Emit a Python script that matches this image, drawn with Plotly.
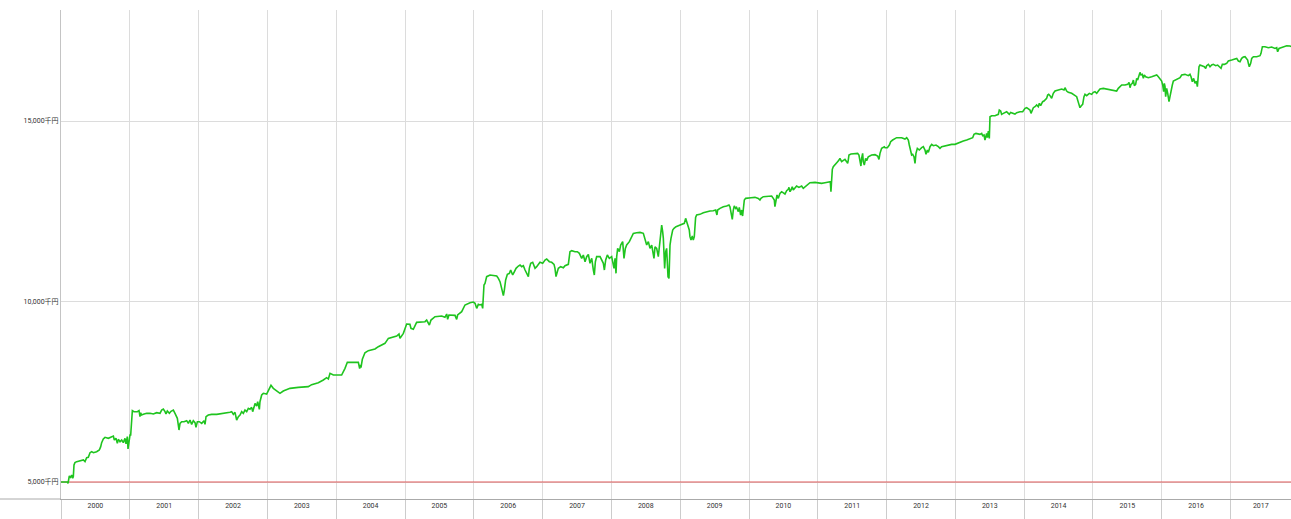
import plotly.graph_objects as go

# ---- data (decimal year, equity in 千円) ----
t_2000_2002 = [2000.0, 2000.092, 2000.102, 2000.121, 2000.140, 2000.155, 2000.170, 2000.179, 2000.189, 2000.203,
               2000.228, 2000.276, 2000.325, 2000.349, 2000.363, 2000.373, 2000.397, 2000.422, 2000.446, 2000.470,
               2000.518, 2000.557, 2000.577, 2000.591, 2000.615, 2000.640, 2000.688, 2000.736, 2000.761, 2000.775,
               2000.799, 2000.819, 2000.833, 2000.858, 2000.882, 2000.906, 2000.930, 2000.945, 2000.964, 2000.974,
               2000.988, 2001.003, 2001.013, 2001.027, 2001.037, 2001.061, 2001.110, 2001.134, 2001.148, 2001.158,
               2001.172, 2001.197, 2001.245, 2001.294, 2001.342, 2001.391, 2001.439, 2001.463, 2001.487, 2001.512,
               2001.526, 2001.545, 2001.575, 2001.599, 2001.633, 2001.657, 2001.672, 2001.691, 2001.705, 2001.715,
               2001.730, 2001.754, 2001.788, 2001.827, 2001.851, 2001.875, 2001.899, 2001.923, 2001.948, 2001.962,
               2001.982, 2002.011, 2002.045, 2002.079, 2002.093, 2002.108, 2002.141, 2002.190, 2002.263, 2002.311,
               2002.360, 2002.408, 2002.456, 2002.481, 2002.505, 2002.529, 2002.553, 2002.578, 2002.602, 2002.626,
               2002.650, 2002.674, 2002.699, 2002.723, 2002.747, 2002.771, 2002.786, 2002.805, 2002.820, 2002.844,
               2002.859, 2002.883, 2002.892, 2002.917, 2002.941, 2002.989]
v_2000_2002 = [5000, 5000, 4963, 5166, 5129, 5194, 5102, 5148, 5471, 5536,
               5563, 5591, 5609, 5563, 5628, 5674, 5683, 5812, 5840, 5812,
               5840, 5886, 5979, 6090, 6191, 6237, 6210, 6256, 6274, 6163,
               6210, 6071, 6182, 6117, 6163, 6090, 6210, 6053, 6256, 5914,
               6117, 6302, 6302, 6625, 6976, 6948, 6948, 6976, 6810, 6920,
               6856, 6874, 6902, 6902, 6884, 6920, 6902, 6994, 7022, 6948,
               6884, 6967, 6902, 6957, 6994, 6902, 6856, 6764, 6579, 6440,
               6625, 6671, 6671, 6699, 6625, 6717, 6597, 6699, 6643, 6514,
               6671, 6671, 6625, 6699, 6597, 6810, 6856, 6874, 6874, 6884,
               6902, 6902, 6930, 6948, 6874, 6930, 6717, 6810, 6856, 6948,
               6902, 6994, 6948, 7040, 7013, 7068, 6948, 7068, 7179, 7105,
               7225, 7013, 7225, 7410, 7456, 7438]

t_2003_2005 = [2003.023, 2003.052, 2003.086, 2003.135, 2003.183, 2003.231, 2003.328, 2003.449, 2003.595, 2003.643,
               2003.740, 2003.813, 2003.861, 2003.886, 2003.910, 2003.958, 2004.079, 2004.128, 2004.162, 2004.322,
               2004.341, 2004.351, 2004.360, 2004.380, 2004.418, 2004.467, 2004.515, 2004.564, 2004.612, 2004.661,
               2004.709, 2004.758, 2004.806, 2004.879, 2004.913, 2004.927, 2004.976, 2005.000, 2005.024, 2005.072,
               2005.087, 2005.121, 2005.169, 2005.291, 2005.315, 2005.354, 2005.378, 2005.436, 2005.533, 2005.581,
               2005.606, 2005.620, 2005.639, 2005.727, 2005.751, 2005.765, 2005.824, 2005.872, 2005.945, 2005.993]
v_2003_2005 = [7594, 7678, 7594, 7530, 7456, 7521, 7594, 7622, 7641, 7696,
               7751, 7825, 7890, 7853, 8010, 7964, 7964, 8148, 8315, 8315,
               8139, 8241, 8167, 8398, 8582, 8638, 8656, 8684, 8749, 8795,
               8841, 8979, 9007, 9044, 9099, 8979, 9118, 9229, 9377, 9367,
               9256, 9229, 9423, 9441, 9487, 9349, 9487, 9580, 9598, 9561,
               9654, 9506, 9626, 9617, 9506, 9626, 9718, 9903, 9967, 9986]

t_2006_2008 = [2006.018, 2006.042, 2006.066, 2006.090, 2006.115, 2006.129, 2006.148, 2006.163, 2006.187, 2006.236,
               2006.284, 2006.333, 2006.357, 2006.381, 2006.405, 2006.430, 2006.444, 2006.463, 2006.488, 2006.517,
               2006.536, 2006.565, 2006.585, 2006.614, 2006.648, 2006.672, 2006.696, 2006.720, 2006.745, 2006.769,
               2006.793, 2006.807, 2006.827, 2006.856, 2006.875, 2006.890, 2006.914, 2006.938, 2006.962, 2007.001,
               2007.035, 2007.059, 2007.098, 2007.132, 2007.166, 2007.180, 2007.195, 2007.214, 2007.229, 2007.263,
               2007.302, 2007.326, 2007.374, 2007.398, 2007.423, 2007.471, 2007.505, 2007.534, 2007.568, 2007.592,
               2007.617, 2007.641, 2007.665, 2007.689, 2007.714, 2007.738, 2007.752, 2007.767, 2007.786, 2007.835,
               2007.859, 2007.883, 2007.898, 2007.917, 2007.941, 2007.970, 2008.004, 2008.019, 2008.038, 2008.053,
               2008.067, 2008.077, 2008.091, 2008.116, 2008.135, 2008.164, 2008.183, 2008.203, 2008.222, 2008.261,
               2008.295, 2008.319, 2008.367, 2008.416, 2008.464, 2008.489, 2008.513, 2008.537, 2008.561, 2008.586,
               2008.600, 2008.619, 2008.634, 2008.658, 2008.682, 2008.707, 2008.731, 2008.745, 2008.755, 2008.774,
               2008.789, 2008.803, 2008.823, 2008.837, 2008.852, 2008.866, 2008.891, 2008.910, 2008.939, 2008.973]
v_2006_2008 = [9949, 9810, 9921, 9903, 9921, 9810, 10457, 10503, 10688, 10734,
               10715, 10706, 10641, 10549, 10364, 10161, 10318, 10595, 10752, 10780,
               10872, 10734, 10808, 10919, 10983, 11011, 10965, 10992, 10872, 10780,
               10688, 10919, 11057, 11085, 11011, 10919, 10965, 11029, 11085, 11057,
               11149, 11177, 11103, 11085, 11029, 10919, 10688, 10826, 10919, 10965,
               10937, 10992, 11029, 11380, 11408, 11380, 11380, 11334, 11195, 11288,
               11103, 11242, 11306, 11057, 11195, 10872, 10734, 11103, 11242, 11242,
               11149, 11057, 10872, 11149, 11288, 11195, 11242, 11103, 10919, 11195,
               10780, 11242, 11472, 11380, 11565, 11657, 11195, 11472, 11565, 11657,
               11796, 11888, 11906, 11915, 11888, 11749, 11565, 11657, 11472, 11565,
               11426, 11195, 11518, 11472, 11242, 11657, 12119, 11934, 11749, 10918,
               11380, 11472, 10688, 10641, 11565, 11749, 11980, 12026, 12073, 12100]

t_2009_2011 = [2009.021, 2009.060, 2009.079, 2009.094, 2009.118, 2009.132, 2009.142, 2009.157, 2009.176, 2009.190,
               2009.205, 2009.215, 2009.224, 2009.239, 2009.287, 2009.336, 2009.384, 2009.433, 2009.481, 2009.515,
               2009.534, 2009.544, 2009.578, 2009.627, 2009.675, 2009.709, 2009.723, 2009.738, 2009.757, 2009.772,
               2009.786, 2009.806, 2009.820, 2009.845, 2009.859, 2009.878, 2009.893, 2009.907, 2009.917, 2009.932,
               2009.951, 2009.990, 2010.029, 2010.087, 2010.135, 2010.159, 2010.174, 2010.208, 2010.281, 2010.329,
               2010.353, 2010.368, 2010.377, 2010.392, 2010.407, 2010.426, 2010.450, 2010.474, 2010.499, 2010.523,
               2010.547, 2010.571, 2010.581, 2010.596, 2010.610, 2010.629, 2010.644, 2010.668, 2010.692, 2010.726,
               2010.765, 2010.789, 2010.814, 2010.862, 2010.886, 2010.959, 2011.007, 2011.056, 2011.104, 2011.153,
               2011.182, 2011.191, 2011.201, 2011.211, 2011.225, 2011.259, 2011.288, 2011.308, 2011.322, 2011.346,
               2011.371, 2011.395, 2011.419, 2011.434, 2011.443, 2011.453, 2011.482, 2011.540, 2011.579, 2011.598,
               2011.613, 2011.627, 2011.637, 2011.652, 2011.661, 2011.676, 2011.695, 2011.710, 2011.734, 2011.782,
               2011.831, 2011.870, 2011.889, 2011.904, 2011.928, 2011.967]
v_2009_2011 = [12137, 12165, 12303, 12211, 12119, 11980, 11796, 11703, 11814, 11703,
               11796, 12211, 12331, 12396, 12414, 12460, 12488, 12506, 12516, 12534,
               12396, 12534, 12580, 12627, 12645, 12673, 12627, 12488, 12276, 12534,
               12645, 12580, 12608, 12488, 12608, 12396, 12534, 12368, 12627, 12811,
               12857, 12857, 12876, 12885, 12857, 12811, 12857, 12903, 12903, 12922,
               12857, 12811, 12627, 12811, 12950, 12857, 12996, 13042, 12996, 12977,
               13070, 13106, 13162, 13042, 13088, 13180, 13088, 13134, 13199, 13162,
               13199, 13134, 13180, 13254, 13291, 13300, 13291, 13273, 13291, 13310,
               13319, 13042, 13319, 13661, 13734, 13827, 13873, 13919, 13965, 13873,
               13919, 13937, 13873, 13827, 13919, 14058, 14085, 14085, 14104, 14058,
               13919, 13753, 13965, 14104, 13873, 13781, 13965, 13901, 14011, 14058,
               14067, 14030, 13937, 14104, 14242, 14288]

t_2012_2014 = [2011.977, 2012.011, 2012.040, 2012.059, 2012.088, 2012.146, 2012.219, 2012.267, 2012.292, 2012.316,
               2012.330, 2012.350, 2012.364, 2012.379, 2012.398, 2012.413, 2012.427, 2012.447, 2012.476, 2012.510,
               2012.534, 2012.558, 2012.573, 2012.592, 2012.607, 2012.631, 2012.655, 2012.679, 2012.718, 2012.752,
               2012.776, 2012.800, 2012.849, 2012.897, 2012.946, 2012.994, 2013.028, 2013.067, 2013.115, 2013.164,
               2013.212, 2013.251, 2013.270, 2013.299, 2013.357, 2013.382, 2013.396, 2013.416, 2013.430, 2013.445,
               2013.454, 2013.464, 2013.479, 2013.493, 2013.503, 2013.527, 2013.575, 2013.624, 2013.638, 2013.658,
               2013.672, 2013.697, 2013.721, 2013.745, 2013.769, 2013.784, 2013.803, 2013.832, 2013.866, 2013.891,
               2013.939, 2013.978, 2013.997, 2014.012, 2014.036, 2014.060, 2014.084, 2014.099, 2014.113, 2014.133,
               2014.157, 2014.181, 2014.205, 2014.220, 2014.239, 2014.268, 2014.288, 2014.302, 2014.326, 2014.341,
               2014.356, 2014.375, 2014.399, 2014.423, 2014.448, 2014.496, 2014.545, 2014.579, 2014.593, 2014.617,
               2014.641, 2014.690, 2014.714, 2014.738, 2014.763, 2014.787, 2014.801, 2014.811, 2014.830, 2014.850,
               2014.869, 2014.884, 2014.908, 2014.947]
v_2012_2014 = [14261, 14261, 14335, 14427, 14473, 14538, 14538, 14501, 14538, 14473,
               14335, 14168, 14058, 14076, 14011, 13827, 14104, 14242, 14196, 14261,
               14289, 14196, 14076, 14196, 14131, 14289, 14353, 14316, 14335, 14289,
               14242, 14289, 14316, 14335, 14353, 14353, 14381, 14427, 14445, 14473,
               14519, 14538, 14630, 14658, 14630, 14658, 14593, 14612, 14473, 14612,
               14658, 14538, 14723, 14519, 15119, 15147, 15147, 15184, 15304, 15276,
               15184, 15212, 15239, 15258, 15212, 15184, 15239, 15212, 15193, 15230,
               15258, 15258, 15304, 15350, 15369, 15332, 15304, 15212, 15276, 15369,
               15396, 15443, 15396, 15489, 15424, 15535, 15554, 15581, 15627, 15720,
               15738, 15701, 15627, 15766, 15830, 15858, 15886, 15858, 15923, 15830,
               15793, 15766, 15738, 15720, 15673, 15516, 15396, 15369, 15424, 15461,
               15673, 15738, 15701, 15766]

t_2015_2017 = [2014.981, 2015.005, 2015.029, 2015.054, 2015.078, 2015.102, 2015.150, 2015.199, 2015.247, 2015.296,
               2015.344, 2015.368, 2015.393, 2015.417, 2015.465, 2015.504, 2015.524, 2015.538, 2015.553, 2015.572,
               2015.587, 2015.601, 2015.620, 2015.635, 2015.649, 2015.669, 2015.683, 2015.698, 2015.717, 2015.732,
               2015.746, 2015.766, 2015.804, 2015.853, 2015.901, 2015.926, 2015.950, 2015.974, 2015.998, 2016.013,
               2016.027, 2016.037, 2016.047, 2016.056, 2016.071, 2016.086, 2016.105, 2016.119, 2016.134, 2016.153,
               2016.168, 2016.192, 2016.231, 2016.265, 2016.289, 2016.337, 2016.386, 2016.410, 2016.425, 2016.444,
               2016.463, 2016.483, 2016.502, 2016.517, 2016.531, 2016.541, 2016.555, 2016.589, 2016.618, 2016.638,
               2016.652, 2016.677, 2016.701, 2016.725, 2016.749, 2016.783, 2016.812, 2016.837, 2016.861, 2016.880,
               2016.909, 2016.943, 2016.967, 2017.016, 2017.055, 2017.089, 2017.113, 2017.137, 2017.161, 2017.185,
               2017.210, 2017.234, 2017.248, 2017.258, 2017.272, 2017.292, 2017.307, 2017.331, 2017.379, 2017.428,
               2017.442, 2017.462, 2017.500, 2017.549, 2017.597, 2017.646, 2017.670, 2017.684, 2017.704, 2017.733,
               2017.767, 2017.815, 2017.864, 2017.878]
v_2015_2017 = [15738, 15794, 15812, 15766, 15830, 15886, 15904, 15886, 15858, 15858,
               15830, 15904, 15950, 15997, 15997, 16015, 16070, 15923, 16015, 16043,
               16135, 15978, 16015, 16181, 16135, 16292, 16347, 16274, 16292, 16181,
               16274, 16227, 16200, 16227, 16255, 16274, 16227, 16181, 16107, 15997,
               15812, 16043, 15950, 15673, 15904, 15766, 15535, 15673, 15858, 15997,
               16107, 16135, 16163, 16200, 16274, 16292, 16255, 16292, 16227, 16089,
               16181, 16043, 16107, 15950, 16274, 16504, 16550, 16523, 16504, 16458,
               16532, 16569, 16504, 16550, 16569, 16532, 16550, 16504, 16458, 16569,
               16569, 16597, 16661, 16689, 16717, 16735, 16661, 16643, 16735, 16772,
               16781, 16735, 16689, 16597, 16504, 16597, 16735, 16781, 16781, 16809,
               16874, 17058, 17058, 17031, 17049, 17012, 17031, 16920, 17012, 17031,
               17058, 17086, 17077, 17058]

initial_capital = 5000
year_starts = list(range(2000, 2018))
year_labels = [str(y) for y in year_starts]
x_end = 2017.878
y_ticks = [5000, 10000, 15000]
y_tick_labels = ["5,000千円", "10,000千円", "15,000千円"]

# ---- build ----
t_all = t_2000_2002 + t_2003_2005 + t_2006_2008 + t_2009_2011 + t_2012_2014 + t_2015_2017
v_all = v_2000_2002 + v_2003_2005 + v_2006_2008 + v_2009_2011 + v_2012_2014 + v_2015_2017

label_pos = [min(y + 0.5, (y + x_end) / 2) for y in year_starts]

fig = go.Figure()
fig.add_trace(go.Scatter(x=[year_starts[0], x_end], y=[initial_capital, initial_capital],
                         mode="lines", line=dict(color="#e05a5a", width=1.2),
                         hoverinfo="skip", showlegend=False))
fig.add_trace(go.Scatter(x=t_all, y=v_all, mode="lines",
                         line=dict(color="#1fc41f", width=1.6),
                         showlegend=False))

fig.update_layout(
    width=1291, height=519,
    margin=dict(l=61, r=0, t=10, b=20),
    plot_bgcolor="white", paper_bgcolor="white",
    font=dict(family="Roboto, 'Noto Sans CJK JP', sans-serif", size=7, color="#333"),
    xaxis=dict(
        range=[2000, x_end],
        tickmode="array", tickvals=label_pos, ticktext=year_labels,
        ticks="", showgrid=False, zeroline=False,
        showline=True, linecolor="#aaaaaa", linewidth=1,
        tickfont=dict(size=7, color="#333"),
        minor=dict(tickmode="array", tickvals=year_starts, showgrid=True,
                   gridcolor="#dcdcdc", gridwidth=1,
                   ticks="outside", ticklen=20, tickcolor="#cccccc", tickwidth=1),
    ),
    yaxis=dict(
        range=[4529, 18075],
        tickmode="array", tickvals=y_ticks, ticktext=y_tick_labels,
        showgrid=True, gridcolor="#dcdcdc", gridwidth=1,
        zeroline=False, showline=True, linecolor="#c4c4c4", linewidth=1,
        ticks="", tickfont=dict(size=7, color="#333"),
    ),
    shapes=[dict(type="line", xref="paper", yref="paper", x0=-0.0525, x1=0, y0=0, y1=0,
                 line=dict(color="#aaaaaa", width=1))],
)

fig.write_html("out.html", config={"displayModeBar": False},
               post_script="document.body.style.margin='0';document.body.style.overflow='hidden';")
